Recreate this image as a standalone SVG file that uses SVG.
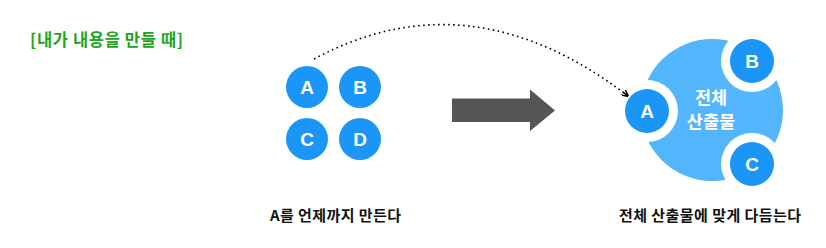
<svg xmlns="http://www.w3.org/2000/svg" width="826" height="248" viewBox="0 0 826 248">
<defs>
<style>
.node{fill:#1b96f6}
.ltr{fill:#fff;font-family:"Liberation Sans",Arial,sans-serif;font-weight:bold;font-size:19px;text-anchor:middle;dominant-baseline:central}
.ko{font-family:"Noto Sans CJK KR","Noto Sans",sans-serif;font-weight:bold}
.lbl{fill:#111;font-size:15px}
.ring{fill:#fff}
</style>
<marker id="ah" viewBox="0 0 10 10" refX="9" refY="5" markerWidth="7" markerHeight="7" orient="auto" markerUnits="userSpaceOnUse">
<path d="M0,0 L10,5 L0,10 M0,5 L10,5" fill="none" stroke="#000" stroke-width="2"/>
</marker>
</defs>
<rect width="826" height="248" fill="#fff"/>
<g id="title"><text class="ko" x="30" y="46" font-size="16.5" fill="#22a31f" textLength="153" lengthAdjust="spacing">[내가 내용을 만들 때]</text></g>
<g id="left-a"><circle class="node" cx="307" cy="87" r="21"/><text class="ltr" x="307" y="87">A</text></g>
<g id="left-b"><circle class="node" cx="360" cy="87" r="21"/><text class="ltr" x="360" y="87">B</text></g>
<g id="left-c"><circle class="node" cx="307" cy="139" r="21"/><text class="ltr" x="307" y="139">C</text></g>
<g id="left-d"><circle class="node" cx="360" cy="139" r="21"/><text class="ltr" x="360" y="139">D</text></g>
<g id="left-caption"><text class="ko lbl" x="270" y="221" textLength="131" lengthAdjust="spacing">A를 언제까지 만든다</text></g>
<g id="big-arrow"><polygon points="452,98.5 530,98.5 530,89.5 555,110.5 530,131 530,122 452,122" fill="#555"/></g>
<g id="whole">
<circle cx="712" cy="110" r="71" fill="#53b5fb"/>
<circle class="ring" cx="647" cy="111" r="31"/>
<circle class="ring" cx="752" cy="61" r="31"/>
<circle class="ring" cx="752" cy="164" r="31"/>
<text class="ko" x="711" y="104" font-size="17.5" fill="#fff" text-anchor="middle">전체</text>
<text class="ko" x="711" y="128" font-size="17.5" fill="#fff" text-anchor="middle">산출물</text>
</g>
<g id="right-a"><circle class="node" cx="647" cy="111" r="22"/><text class="ltr" x="647" y="111">A</text></g>
<g id="right-b"><circle class="node" cx="752" cy="61" r="22"/><text class="ltr" x="752" y="61">B</text></g>
<g id="right-c"><circle class="node" cx="752" cy="164" r="22"/><text class="ltr" x="752" y="164">C</text></g>
<g id="right-caption"><text class="ko lbl" x="619" y="221" textLength="182" lengthAdjust="spacing">전체 산출물에 맞게 다듬는다</text></g>
<g id="connectors">
<path d="M314,59 Q470,-25 628,96" fill="none" stroke="#000" stroke-width="1.6" stroke-dasharray="1.6 3.4" marker-end="url(#ah)"/>
</g>
</svg>
